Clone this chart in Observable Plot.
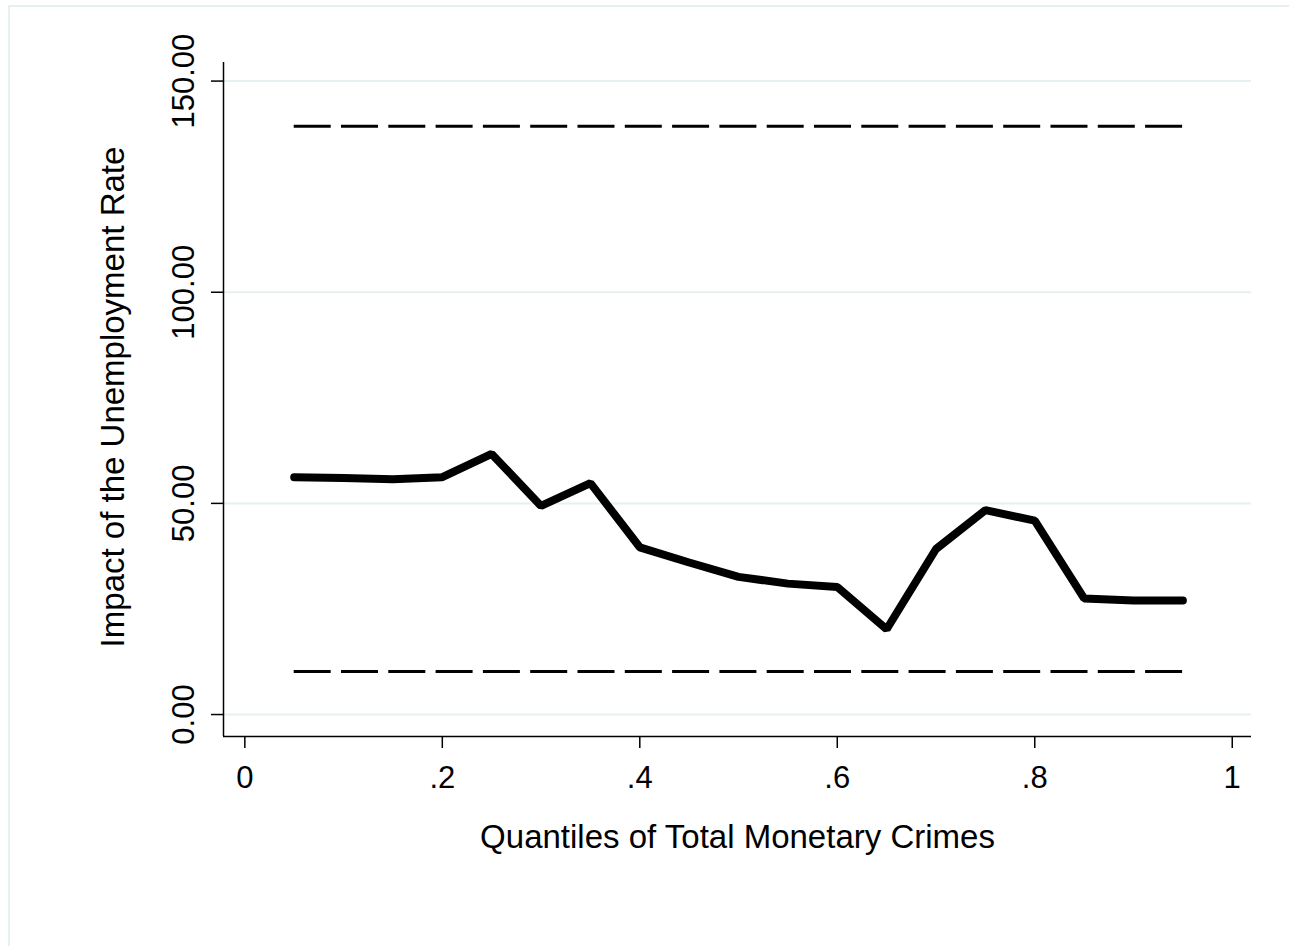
<!DOCTYPE html>
<html><head><meta charset="utf-8">
<script src="https://cdn.jsdelivr.net/npm/d3@7"></script>
<script src="https://cdn.jsdelivr.net/npm/@observablehq/plot@0.6"></script>
<style>
html,body{margin:0;padding:0;background:#fff;overflow:hidden;}
#wrap{position:relative;width:1289px;height:946px;}
#border{position:absolute;left:8px;top:5px;right:-10px;bottom:-10px;border-left:2px solid #e6eff1;border-top:2px solid #e6eff1;pointer-events:none;}
#chart{position:absolute;left:0;top:0;}
</style></head><body><div id="wrap"><div id="border"></div><div id="chart"></div></div>
<script>
const quantiles = [0.05,0.10,0.15,0.20,0.25,0.30,0.35,0.40,0.45,0.50,0.55,0.60,0.65,0.70,0.75,0.80,0.85,0.90,0.95];
const impact    = [56.2,56.0,55.7,56.2,61.7,49.4,54.8,39.6,36.0,32.6,31.0,30.2,20.2,39.2,48.4,45.9,27.5,27.0,27.0];
const upperBound = 139.3;
const lowerBound = 10.2;
const xTicks = [0,0.2,0.4,0.6,0.8,1];
const xTickLabels = ["0",".2",".4",".6",".8","1"];
const yTicks = [0,50,100,150];
const yTickLabels = ["0.00","50.00","100.00","150.00"];
const xTitle = "Quantiles of Total Monetary Crimes";
const yTitle = "Impact of the Unemployment Rate";

const xDomain = [-0.0216, 1.0195];
const yDomain = [-5.2, 154.4];
const font = "'Liberation Sans', Arial, Helvetica, sans-serif";

const chart = Plot.plot({
  width: 1289,
  height: 946,
  marginLeft: 223,
  marginRight: 38,
  marginTop: 62,
  marginBottom: 210,
  x: {domain: xDomain, axis: null},
  y: {domain: yDomain, axis: null},
  style: {fontFamily: font, background: "transparent", color: "#000"},
  marks: [
    Plot.ruleY(yTicks, {stroke: "#e6eff1", strokeWidth: 2}),
    Plot.ruleX([xDomain[0]], {stroke: "#000", strokeWidth: 1.5}),
    Plot.ruleY([yDomain[0]], {stroke: "#000", strokeWidth: 1.5}),
    Plot.axisX({ticks: xTicks, tickSize: 12, tickFormat: () => "", stroke: "#000", strokeWidth: 1.5}),
    Plot.axisY({ticks: yTicks, tickSize: 12, tickFormat: () => "", stroke: "#000", strokeWidth: 1.5}),
    Plot.text(xTicks, {x: d => d, y: yDomain[0], text: (d, i) => xTickLabels[i], dy: 51, lineAnchor: "bottom", textAnchor: "middle", fontSize: 31, fill: "#000"}),
    Plot.text(yTicks, {x: xDomain[0], y: d => d, text: (d, i) => yTickLabels[i], dx: -30, rotate: -90, lineAnchor: "bottom", textAnchor: "middle", fontSize: 31, fill: "#000"}),
    Plot.text([xTitle], {frameAnchor: "bottom", dy: 111, lineAnchor: "bottom", textAnchor: "middle", fontSize: 33, fill: "#000"}),
    Plot.text([yTitle], {frameAnchor: "left", dx: -100, dy: -2.5, rotate: -90, lineAnchor: "bottom", textAnchor: "middle", fontSize: 33, fill: "#000"}),
    Plot.ruleY([upperBound, lowerBound], {x1: d3.min(quantiles), x2: d3.max(quantiles), stroke: "#000", strokeWidth: 3, strokeDasharray: "37,10.3"}),
    Plot.line(quantiles, {x: d => d, y: (d, i) => impact[i], stroke: "#000", strokeWidth: 8, strokeLinejoin: "miter", strokeLinecap: "round"})
  ]
});
document.getElementById("chart").appendChild(chart);
</script>
</body></html>
